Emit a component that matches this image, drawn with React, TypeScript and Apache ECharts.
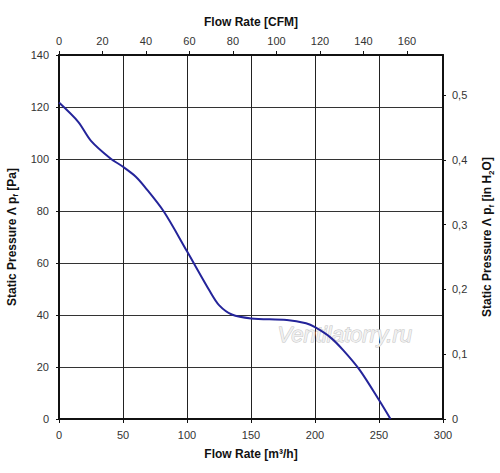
import React, { useEffect, useRef } from "react";
import * as echarts from "echarts";

// Flow rate in m³/h and static pressure in Pa
const flowM3h = [0, 15, 25, 40, 50, 60, 67, 82, 100, 118, 125, 135, 150, 178, 193, 200, 212, 222, 235, 250, 259];
const pressurePa = [121.7, 114.3, 107.0, 100.3, 97, 93.2, 89.3, 79.7, 64.5, 49, 43.8, 40.2, 38.7, 38.1, 36.8, 35.3, 31.4, 26.5, 18.8, 7.3, 0];

const bottomMax = 300;
const bottomInterval = 50;
const leftMax = 140;
const leftInterval = 20;
const cfmPerM3h = 0.588578;
const paPerInH2O = 249.089;
const topInterval = 20;
const rightInterval = 0.1;

const FONT = "'Liberation Sans', Arial, sans-serif";

export default function App() {
  const ref = useRef<HTMLDivElement>(null);
  useEffect(() => {
    if (!ref.current) return;
    const chart = echarts.init(ref.current, undefined, { renderer: "svg" });
    const axisLine = { show: true, onZero: false, lineStyle: { color: "#111", width: 2 } };
    const label = { color: "#333", fontSize: 11, fontFamily: FONT };
    const nameStyle = {
      color: "#111",
      fontSize: 12,
      fontWeight: "bold" as const,
      fontFamily: FONT,
      lineHeight: 16,
      rich: {
        s: { fontSize: 8, fontWeight: "bold" as const, fontFamily: FONT, verticalAlign: "bottom" as const, lineHeight: 16, padding: [6, 0, 0, 0] },
      },
    };
    chart.setOption({
      animation: false,
      backgroundColor: "#fff",
      grid: { left: 59, right: 57, top: 55, bottom: 54, containLabel: false, outerBoundsMode: "none" },
      xAxis: [
        {
          type: "value",
          position: "bottom",
          min: 0,
          max: bottomMax,
          interval: bottomInterval,
          axisLine,
          axisTick: { show: true, length: 4, lineStyle: { color: "#111", width: 1 } },
          axisLabel: { ...label, margin: 10 },
          splitLine: { show: true, lineStyle: { color: "#222", width: 1 } },
          name: "Flow Rate [m³/h]",
          nameLocation: "middle",
          nameGap: 27,
          nameTextStyle: nameStyle,
        },
        {
          type: "value",
          position: "top",
          min: 0,
          max: bottomMax * cfmPerM3h,
          interval: topInterval,
          axisLine,
          axisTick: { show: true, length: 4, lineStyle: { color: "#111", width: 1 } },
          axisLabel: { ...label, margin: 9, showMaxLabel: false },
          splitLine: { show: false },
          name: "Flow Rate [CFM]",
          nameLocation: "middle",
          nameGap: 23,
          nameTextStyle: nameStyle,
        },
      ],
      yAxis: [
        {
          type: "value",
          position: "left",
          min: 0,
          max: leftMax,
          interval: leftInterval,
          axisLine,
          axisTick: { show: true, length: 3, lineStyle: { color: "#111", width: 1 } },
          axisLabel: { ...label, margin: 10 },
          splitLine: { show: true, lineStyle: { color: "#333", width: 1 } },
          name: "Static Pressure Λ p{s|f} [Pa]",
          nameLocation: "middle",
          nameRotate: 90,
          nameGap: 35,
          nameTextStyle: nameStyle,
        },
        {
          type: "value",
          position: "right",
          min: 0,
          max: leftMax / paPerInH2O,
          interval: rightInterval,
          axisLine,
          axisTick: { show: true, length: 3, lineStyle: { color: "#111", width: 1 } },
          axisLabel: {
            ...label,
            margin: 9,
            showMaxLabel: false,
            formatter: (v: number) => (Math.abs(v) < 1e-9 ? "0" : v.toFixed(1).replace(".", ",")),
          },
          splitLine: { show: false },
          name: "Static Pressure Λ p{s|f} [in H{s|2}O]",
          nameLocation: "middle",
          nameRotate: 90,
          nameGap: 36,
          nameTextStyle: nameStyle,
        },
      ],
      graphic: [
        {
          type: "text",
          left: 277,
          top: 323,
          z: 1,
          style: {
            text: "Ventilatorry.ru",
            font: "italic 22px 'Liberation Sans', Arial, sans-serif",
            fill: "#f0f0f0",
            stroke: "#c4c4c4",
            lineWidth: 1,
          },
        },
      ],
      series: [
        {
          type: "line",
          xAxisIndex: 0,
          yAxisIndex: 0,
          smooth: 0.3,
          showSymbol: false,
          symbol: "none",
          z: 5,
          lineStyle: { color: "#24249a", width: 2 },
          data: flowM3h.map((q, i) => [q, pressurePa[i]]),
        },
      ],
    });
    return () => chart.dispose();
  }, []);
  return <div ref={ref} style={{ position: "fixed", left: 0, top: 0, width: 500, height: 473 }} />;
}
